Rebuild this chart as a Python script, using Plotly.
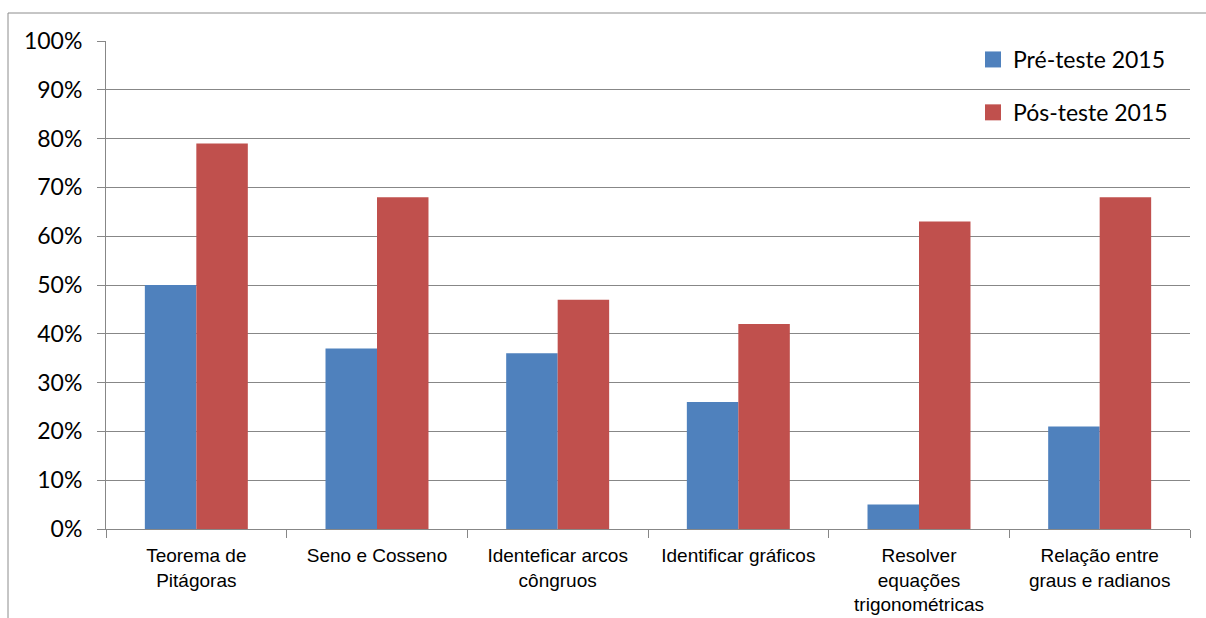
import plotly.graph_objects as go

# Conteúdos avaliados e percentuais de acerto
categorias = [
    "Teorema de<br>Pitágoras",
    "Seno e Cosseno",
    "Identeficar arcos<br>côngruos",
    "Identificar gráficos",
    "Resolver<br>equações<br>trigonométricas",
    "Relação entre<br>graus e radianos",
]
pre_teste = [0.50, 0.37, 0.36, 0.26, 0.05, 0.21]
pos_teste = [0.79, 0.68, 0.47, 0.42, 0.63, 0.68]
series = [("Pré-teste 2015", pre_teste, "#4F81BD"),
          ("Pós-teste 2015", pos_teste, "#C0504D")]
y_ticks = [i / 10 for i in range(11)]

CINZA = "#878787"

fig = go.Figure()
for i, (nome, valores, cor) in enumerate(series):
    fig.add_trace(go.Bar(x=categorias, y=valores, name=nome,
                         marker=dict(color=cor, line=dict(width=0)),
                         legendgroup=f"g{i}", showlegend=False))
    # entrada de legenda com quadrado maior
    fig.add_trace(go.Scatter(x=[None], y=[None], mode="markers", name=nome,
                             marker=dict(symbol="square", size=16, color=cor),
                             legendgroup=f"g{i}", showlegend=True))

W, H = 1206, 618
L, R, T, B = 106, 16, 41, 89
pw, ph = W - L - R, H - T - B

def px_x(p):
    return (p - L) / pw

def px_y(p):
    return 1 - (p - T) / ph

fig.update_layout(
    width=W, height=H,
    margin=dict(l=L, r=R, t=T, b=B),
    paper_bgcolor="white", plot_bgcolor="white",
    barmode="group", bargap=0.43, bargroupgap=0,
    showlegend=True,
    legend=dict(
        x=px_x(973), y=px_y(38), xanchor="left", yanchor="top",
        font=dict(family="Lato", size=23, color="black"),
        traceorder="grouped", tracegroupgap=20, itemsizing="trace",
        bgcolor="rgba(0,0,0,0)",
    ),
    xaxis=dict(
        type="category", tickson="boundaries",
        ticks="outside", ticklen=8, tickcolor=CINZA, tickwidth=1,
        showline=True, linecolor=CINZA, linewidth=1,
        showgrid=False, automargin=False,
        ticklabelstandoff=9,
        tickfont=dict(family="Liberation Sans", size=19, color="black"),
    ),
    yaxis=dict(
        range=[0, 1], tickvals=y_ticks, tickformat=".0%",
        ticks="outside", ticklen=8, tickcolor=CINZA, tickwidth=1,
        showline=True, linecolor=CINZA, linewidth=1,
        showgrid=True, gridcolor=CINZA, gridwidth=1,
        zeroline=False, automargin=False,
        ticklabelstandoff=10,
        tickfont=dict(family="Lato", size=23, color="black"),
    ),
    shapes=[dict(
        type="rect", xref="paper", yref="paper",
        x0=px_x(8), x1=px_x(1212), y0=px_y(640), y1=px_y(13),
        line=dict(color="#8C8C8C", width=1), fillcolor="rgba(0,0,0,0)",
        layer="below",
    )],
)

fig.write_html("out.html")
